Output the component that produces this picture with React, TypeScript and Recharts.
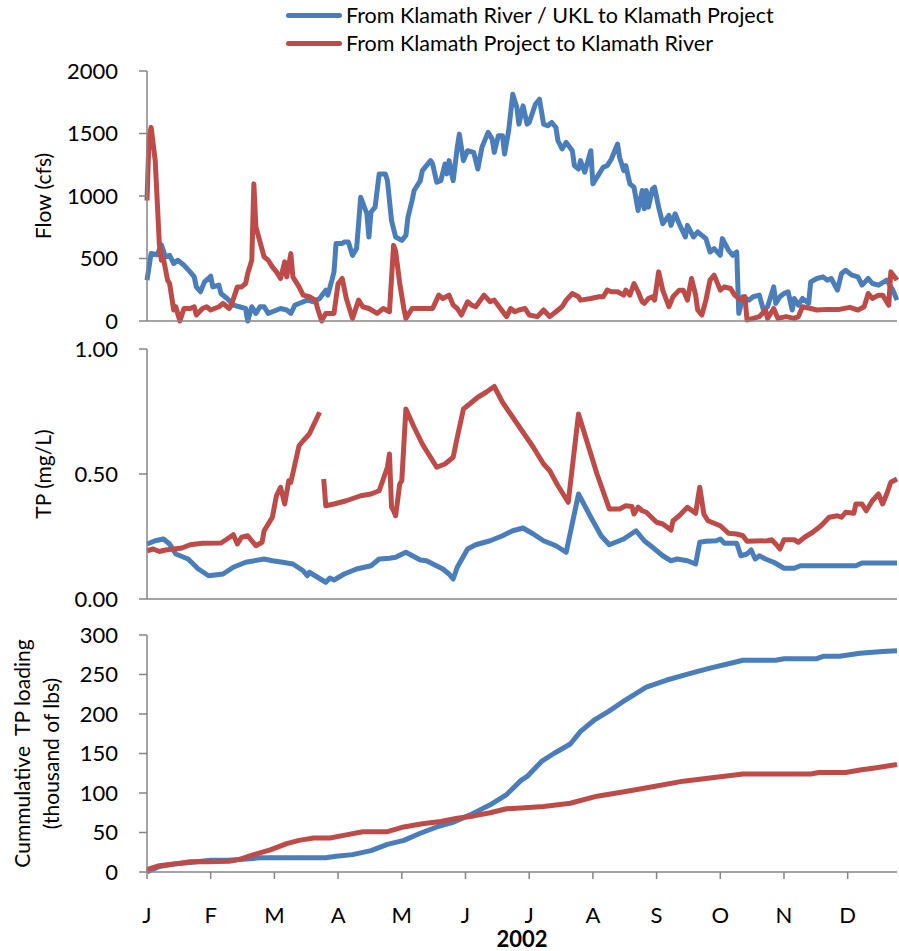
import React from 'react';
import { LineChart, Line, XAxis, YAxis, Legend } from 'recharts';

// day of 2002 (0 = Jan 1) and value
const months = ['J', 'F', 'M', 'A', 'M', 'J', 'J', 'A', 'S', 'O', 'N', 'D'];
const monthTicks = [0, 31, 62, 93, 124, 155, 186, 217, 248, 279, 310, 341];

const flowTicks = [0, 500, 1000, 1500, 2000];
const tpTicks = [0, 0.5, 1];
const loadTicks = [0, 50, 100, 150, 200, 250, 300];

const BLUE = '#4A7EBB';
const RED = '#BE4B48';
const AXIS = '#868686';

const seriesNames = {
  toProject: 'From Klamath River / UKL to Klamath Project',
  toRiver: 'From Klamath Project to Klamath River',
};
const legendOrder = [seriesNames.toProject, seriesNames.toRiver];

// Flow (cfs)
const flowToProject = [
  [0, 327], [2, 540], [5, 530], [7, 610], [9, 512], [11, 525], [13, 460], [15, 486], [18, 446],
  [21, 393], [23, 353], [24, 273], [26, 234], [28, 313], [31, 358], [32, 273], [35, 287], [36, 220],
  [39, 180], [42, 127], [45, 114], [48, 100], [49, 0], [51, 114], [53, 61], [55, 114], [57, 114],
  [59, 61], [61, 74], [65, 100], [68, 88], [70, 61], [72, 127], [74, 140], [78, 167], [81, 154],
  [84, 180], [87, 247], [88, 207], [90, 327], [91, 393], [92, 620], [95, 620], [96, 632], [98, 632],
  [100, 525], [102, 580], [104, 990], [107, 858], [108, 672], [109, 871], [111, 911], [113, 1177],
  [116, 1177], [117, 1124], [119, 805], [121, 672], [124, 645], [126, 685], [127, 831], [129, 964],
  [130, 1044], [133, 1123], [134, 1203], [138, 1283], [139, 1256], [141, 1110], [143, 1123],
  [145, 1256], [146, 1177], [147, 1283], [149, 1123], [151, 1389], [152, 1495], [154, 1283],
  [156, 1362], [159, 1349], [161, 1216], [163, 1389], [166, 1509], [168, 1455], [169, 1349],
  [171, 1482], [173, 1482], [174, 1336], [176, 1522], [178, 1814], [180, 1708], [181, 1575],
  [183, 1721], [185, 1575], [186, 1588], [189, 1734], [191, 1774], [193, 1575], [195, 1562],
  [197, 1588], [199, 1548], [200, 1442], [202, 1376], [204, 1429], [207, 1362], [208, 1243],
  [210, 1216], [211, 1283], [213, 1190], [216, 1362], [217, 1097], [220, 1177], [222, 1230],
  [224, 1243], [226, 1296], [229, 1416], [230, 1309], [232, 1203], [233, 1243], [235, 1097],
  [237, 1070], [239, 884], [241, 1044], [242, 898], [243, 1044], [244, 911], [246, 1057],
  [247, 1070], [249, 911], [251, 778], [254, 845], [255, 765], [257, 858], [259, 778], [262, 672],
  [263, 765], [266, 672], [268, 712], [272, 659], [274, 552], [276, 579], [279, 526], [280, 659],
  [283, 566], [285, 526], [287, 552], [288, 61], [290, 194], [293, 167], [295, 194], [298, 207],
  [300, 88], [302, 114], [303, 167], [305, 273], [306, 141], [308, 194], [310, 220], [312, 234],
  [314, 88], [315, 180], [317, 127], [319, 180], [322, 141], [323, 313], [326, 340], [329, 353],
  [331, 327], [333, 340], [336, 247], [338, 380], [340, 406], [343, 367], [346, 353], [348, 287],
  [351, 340], [353, 300], [356, 287], [360, 327], [363, 247], [365, 167],
];

const flowToRiver = [
  [0, 964], [1, 1469], [2, 1549], [4, 1283], [6, 619], [7, 486], [8, 499], [10, 327], [11, 300],
  [13, 88], [14, 114], [16, 0], [18, 100], [21, 100], [23, 114], [24, 48], [27, 100], [29, 114],
  [31, 88], [35, 114], [37, 141], [40, 100], [41, 127], [44, 273], [46, 273], [48, 300], [49, 380],
  [51, 486], [52, 1097], [53, 752], [55, 632], [57, 513], [59, 486], [61, 433], [63, 393],
  [65, 340], [67, 473], [68, 353], [70, 539], [71, 353], [74, 273], [76, 207], [79, 194],
  [82, 167], [83, 100], [85, 0], [87, 61], [91, 61], [93, 300], [95, 340], [97, 180], [100, 21],
  [103, 167], [105, 114], [108, 100], [112, 61], [115, 100], [118, 74], [120, 605], [121, 560],
  [123, 300], [125, 100], [126, 21], [129, 100], [139, 100], [142, 207], [144, 180], [147, 207],
  [149, 127], [151, 100], [153, 48], [156, 154], [158, 127], [160, 114], [164, 207], [167, 154],
  [169, 167], [172, 100], [175, 35], [177, 100], [179, 74], [181, 88], [184, 100], [186, 48],
  [190, 35], [193, 88], [196, 35], [199, 74], [202, 114], [204, 167], [207, 220], [210, 194],
  [211, 167], [216, 180], [220, 194], [222, 194], [224, 247], [226, 234], [229, 234], [232, 207],
  [233, 247], [235, 207], [237, 300], [239, 234], [241, 154], [242, 141], [244, 180], [246, 194],
  [247, 167], [249, 393], [251, 247], [254, 114], [256, 194], [259, 247], [261, 247], [263, 167],
  [265, 340], [267, 207], [268, 88], [270, 48], [272, 167], [274, 327], [276, 367], [279, 247],
  [281, 273], [284, 260], [286, 207], [289, 167], [291, 194], [292, 8], [295, 21], [298, 35],
  [301, 88], [302, 21], [305, 100], [307, 21], [311, 35], [315, 21], [317, 35], [319, 114],
  [323, 100], [326, 88], [331, 93], [337, 93], [342, 109], [346, 88], [349, 114], [351, 220],
  [353, 180], [356, 207], [358, 207], [361, 127], [362, 393], [365, 327],
];

// TP (mg/L)
const tpToProject = [
  [0, 0.22], [4, 0.233], [8, 0.24], [11, 0.22], [14, 0.18], [20, 0.16], [25, 0.12], [30, 0.093],
  [37, 0.1], [42, 0.127], [48, 0.147], [57, 0.16], [61, 0.153], [66, 0.147], [71, 0.14],
  [76, 0.113], [78, 0.093], [79, 0.107], [83, 0.087], [87, 0.067], [89, 0.084], [91, 0.076],
  [96, 0.1], [102, 0.12], [109, 0.133], [113, 0.16], [118, 0.163], [121, 0.167], [126, 0.187],
  [133, 0.156], [136, 0.153], [144, 0.12], [147, 0.1], [149, 0.08], [151, 0.127], [156, 0.2],
  [160, 0.217], [167, 0.233], [173, 0.253], [178, 0.273], [183, 0.284], [188, 0.26], [193, 0.233],
  [199, 0.213], [204, 0.187], [210, 0.42], [216, 0.327], [221, 0.253], [225, 0.217], [232, 0.24],
  [238, 0.273], [242, 0.233], [246, 0.207], [251, 0.173], [255, 0.153], [258, 0.16], [263, 0.153],
  [267, 0.14], [269, 0.227], [272, 0.231], [277, 0.233], [279, 0.24], [281, 0.223], [287, 0.223],
  [289, 0.173], [292, 0.18], [294, 0.196], [296, 0.16], [298, 0.173], [301, 0.16], [305, 0.147],
  [310, 0.123], [315, 0.123], [318, 0.133], [345, 0.133], [348, 0.144], [365, 0.144],
];

const tpToRiver = [
  [0, 0.193], [3, 0.2], [6, 0.19], [9, 0.196], [13, 0.2], [17, 0.204], [21, 0.217], [27, 0.223],
  [36, 0.224], [39, 0.24], [42, 0.257], [44, 0.22], [46, 0.247], [49, 0.253], [53, 0.213],
  [56, 0.227], [57, 0.273], [61, 0.327], [63, 0.413], [65, 0.447], [67, 0.38], [69, 0.473],
  [70, 0.467], [74, 0.613], [76, 0.633], [79, 0.66], [84, 0.747], [85, null], [86, 0.48],
  [87, 0.373], [91, 0.38], [97, 0.393], [104, 0.413], [109, 0.42], [113, 0.433], [117, 0.527],
  [118, 0.58], [119, 0.367], [120, 0.353], [121, 0.333], [123, 0.46], [124, 0.473], [126, 0.76],
  [130, 0.687], [134, 0.62], [136, 0.593], [141, 0.527], [145, 0.54], [149, 0.567], [151, 0.647],
  [154, 0.76], [157, 0.78], [161, 0.807], [165, 0.827], [169, 0.85], [173, 0.787], [178, 0.727],
  [183, 0.667], [188, 0.607], [193, 0.54], [196, 0.513], [200, 0.453], [205, 0.387], [210, 0.74],
  [214, 0.633], [219, 0.5], [223, 0.407], [225, 0.36], [230, 0.36], [233, 0.373], [236, 0.37],
  [237, 0.34], [239, 0.367], [241, 0.353], [243, 0.347], [248, 0.307], [251, 0.3], [255, 0.276],
  [256, 0.313], [259, 0.333], [263, 0.367], [267, 0.343], [269, 0.447], [271, 0.34], [273, 0.313],
  [279, 0.293], [283, 0.263], [287, 0.26], [290, 0.253], [292, 0.231], [302, 0.233], [304, 0.237],
  [306, 0.22], [308, 0.2], [310, 0.237], [315, 0.237], [317, 0.227], [320, 0.247], [324, 0.267],
  [328, 0.293], [332, 0.327], [336, 0.333], [338, 0.327], [340, 0.347], [344, 0.343], [345, 0.38],
  [348, 0.38], [350, 0.353], [353, 0.393], [356, 0.42], [358, 0.38], [360, 0.42], [362, 0.467],
  [365, 0.48],
];

// Cumulative TP loading (thousand lbs)
const loadToProject = [
  [0, 0], [6, 7], [13, 10], [21, 12], [31, 15], [39, 15], [47, 16], [55, 18], [87, 18], [92, 20],
  [100, 22], [109, 27], [117, 35], [125, 40], [133, 49], [141, 57], [149, 63], [157, 72], [167, 85],
  [175, 98], [182, 116], [185, 121], [192, 140], [198, 150], [206, 162], [211, 178], [218, 193],
  [225, 204], [233, 218], [243, 234], [253, 243], [264, 251], [274, 258], [282, 263], [290, 268],
  [306, 268], [310, 270], [326, 270], [329, 273], [337, 273], [347, 277], [358, 279], [365, 280],
];

const loadToRiver = [
  [0, 3], [6, 8], [13, 10], [21, 13], [29, 13], [40, 13.5], [45, 16], [52, 22], [60, 28], [68, 36],
  [74, 40], [81, 43], [89, 43], [97, 47], [105, 51], [117, 51], [125, 57], [134, 61], [143, 64],
  [151, 68], [159, 71], [167, 75], [175, 80], [182, 81], [193, 83], [206, 87], [219, 96],
  [233, 102], [246, 108], [261, 115], [274, 119], [290, 124], [323, 124], [327, 126], [340, 126],
  [347, 129], [355, 132], [365, 136],
];

const rows = (pairs: (number | null)[][]) => pairs.map(([day, v]) => ({ day, v }));

const FONT = 'Lato, "Open Sans", sans-serif';
const tickStyle = { fontSize: 22, fill: '#000' };

const AxisTitle = (props: any) => {
  const { viewBox, lines, xs } = props;
  const cy = viewBox ? viewBox.y + viewBox.height / 2 : 0;
  return (
    <g>
      {lines.map((t: string, i: number) => (
        <text
          key={i}
          x={xs[i]}
          y={cy}
          transform={`rotate(-90 ${xs[i]} ${cy})`}
          textAnchor="middle"
          dominantBaseline="central"
          fontSize={21}
          fill="#000"
          style={{ whiteSpace: 'pre' }}
        >
          {t}
        </text>
      ))}
    </g>
  );
};

const LegendBox = (props: any) => {
  const items = [...(props.payload || [])].sort(
    (a: any, b: any) => legendOrder.indexOf(a.value) - legendOrder.indexOf(b.value),
  );
  return (
    <div style={{ fontFamily: FONT, fontSize: 21.5, color: '#000' }}>
      {items.map((p: any) => (
        <div key={p.value} style={{ display: 'flex', alignItems: 'center', height: 28 }}>
          <span style={{ display: 'inline-block', width: 56, height: 5, borderRadius: 3, background: p.color, marginRight: 4 }} />
          <span>{p.value}</span>
        </div>
      ))}
    </div>
  );
};

const xProps = {
  dataKey: 'day',
  type: 'number' as const,
  domain: [0, 365],
  ticks: monthTicks,
  allowDuplicatedCategory: false,
  stroke: AXIS,
  strokeWidth: 1.5,
  tickSize: 7,
};

const yProps = {
  width: 147,
  stroke: AXIS,
  strokeWidth: 1.5,
  tickSize: 8,
  tickMargin: 21,
  tick: tickStyle,
  interval: 0 as const,
};

const lineProps = {
  dataKey: 'v',
  type: 'linear' as const,
  dot: false,
  activeDot: false,
  strokeWidth: 5,
  strokeLinejoin: 'round' as const,
  isAnimationActive: false,
};

export default function App() {
  return (
    <div style={{ position: 'absolute', left: 0, top: 0, width: 899, height: 951, background: '#fff', fontFamily: FONT }}>
      <div style={{ position: 'absolute', left: 0, top: 0 }}>
        <LineChart width={899} height={335} margin={{ top: 71, right: 2, bottom: 0, left: 0 }}>
          <XAxis {...xProps} height={14} tick={false} />
          <YAxis
            {...yProps}
            domain={[0, 2000]}
            ticks={flowTicks}
            label={(p: any) => <AxisTitle {...p} lines={['Flow (cfs)']} xs={[42]} />}
          />
          <Legend
            layout="vertical"
            align="center"
            verticalAlign="middle"
            content={<LegendBox />}
            wrapperStyle={{ position: 'absolute', left: 286, top: 1, width: 'auto' }}
          />
          <Line {...lineProps} data={rows(flowToProject)} name={seriesNames.toProject} stroke={BLUE} />
          <Line {...lineProps} data={rows(flowToRiver)} name={seriesNames.toRiver} stroke={RED} />
        </LineChart>
      </div>

      <div style={{ position: 'absolute', left: 0, top: 335 }}>
        <LineChart width={899} height={280} margin={{ top: 14, right: 2, bottom: 0, left: 0 }}>
          <XAxis {...xProps} height={16} tick={false} />
          <YAxis
            {...yProps}
            domain={[0, 1]}
            ticks={tpTicks}
            tickFormatter={(v: number) => v.toFixed(2)}
            label={(p: any) => <AxisTitle {...p} lines={['TP (mg/L)']} xs={[42]} />}
          />
          <Line {...lineProps} data={rows(tpToProject)} name={seriesNames.toProject} stroke={BLUE} />
          <Line {...lineProps} data={rows(tpToRiver)} name={seriesNames.toRiver} stroke={RED} connectNulls={false} />
        </LineChart>
      </div>

      <div style={{ position: 'absolute', left: 0, top: 615 }}>
        <LineChart width={899} height={336} margin={{ top: 20, right: 2, bottom: 0, left: 0 }}>
          <XAxis
            {...xProps}
            height={79}
            tickMargin={28}
            tick={tickStyle}
            interval={0}
            tickFormatter={(v: number) => months[monthTicks.indexOf(v)]}
            label={{ value: '2002', position: 'insideBottom', offset: 4, fontSize: 22, fontWeight: 'bold', fill: '#000' }}
          />
          <YAxis
            {...yProps}
            domain={[0, 300]}
            ticks={loadTicks}
            label={(p: any) => (
              <AxisTitle {...p} lines={['Cummulative  TP loading', '(thousand of lbs)']} xs={[21, 50]} />
            )}
          />
          <Line {...lineProps} data={rows(loadToProject)} name={seriesNames.toProject} stroke={BLUE} />
          <Line {...lineProps} data={rows(loadToRiver)} name={seriesNames.toRiver} stroke={RED} />
        </LineChart>
      </div>
    </div>
  );
}
